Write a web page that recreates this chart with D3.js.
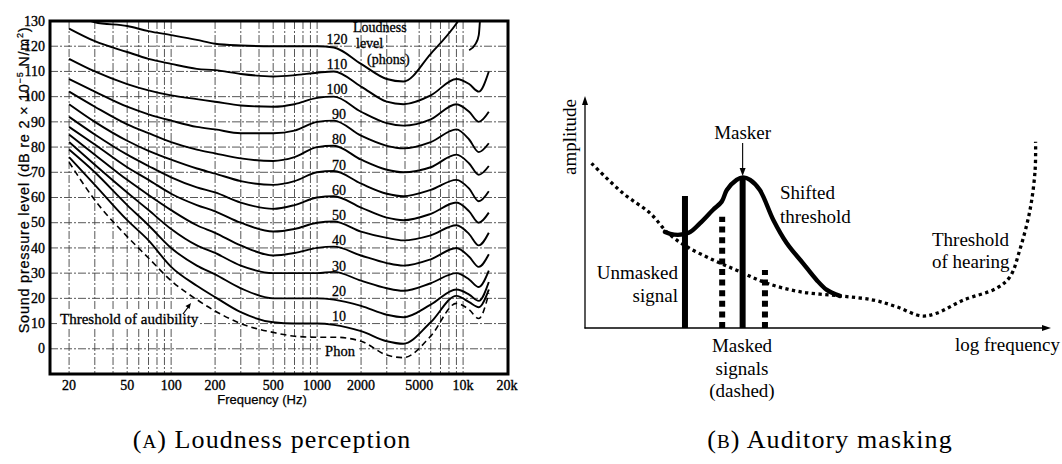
<!DOCTYPE html>
<html>
<head>
<meta charset="utf-8">
<script src="https://cdn.jsdelivr.net/npm/d3@7"></script>
<style>
  html, body { margin: 0; padding: 0; background: #fff; }
  svg { display: block; }
  .serif { font-family: "Liberation Serif", "DejaVu Serif", serif; }
  .sans { font-family: "Liberation Sans", "DejaVu Sans", sans-serif; }
</style>
</head>
<body>
<div id="app"></div>
<script>
// ---------- (A) equal-loudness contours ----------
const freqs = [20, 30, 50, 70, 100, 150, 200, 300, 500, 700, 1000, 1300, 2000, 3000, 3900, 6000, 9000, 11000, 12800, 15000];
const threshold = [74, 59, 44.5, 36, 27, 19.5, 15, 10, 6.5, 5, 4.6, 4.6, 3, -2.5, -3.5, 5, 18, 15.5, 12, 22];
const phon10  = [76, 65, 51, 43, 32.5, 25, 20.5, 14.5, 10.5, 10, 10, 9.5, 7, 3, 2, 10.5, 21, 18.5, 16.5, 23.5];
const phon20  = [79, 70, 57, 49, 40, 33, 29.5, 24, 20, 20, 20, 19.5, 17, 13.5, 12.5, 17.5, 23.5, 21.5, 19, 26.5];
const phon30  = [82, 73, 62, 55, 47.5, 41, 38, 33, 30, 30, 30, 30.5, 27, 24, 23, 26, 30, 27.5, 24.5, 31];
const phon40  = [85, 77, 67, 61, 55, 49, 46, 41, 37, 38, 40, 40.5, 37, 34, 33, 35.5, 40, 36.5, 32.5, 37.5];
const phon50  = [88, 81, 72, 67, 61.5, 57, 54.5, 50, 46.5, 47.5, 50, 50.5, 46.5, 44, 43, 45, 49, 45.5, 41, 46];
const phon60  = [92, 85, 77, 72.5, 68, 64, 62, 58, 55.5, 57, 60, 60.5, 56, 52, 51, 53.5, 58, 54.5, 50, 54];
const phon70  = [97, 90, 82.5, 78.5, 75, 71.5, 69.5, 66.5, 65, 66.5, 70, 70.5, 65.5, 61.5, 60.5, 63, 67, 63.5, 58.5, 62.5];
const phon80  = [102, 96, 89, 85.5, 82, 79, 77.5, 75.5, 74.5, 76, 80, 80.5, 75, 71, 70, 72, 77, 73.5, 69, 72.5];
const phon90  = [107, 102, 96, 93, 90.5, 88, 87, 85.5, 85.5, 86.5, 90, 90.5, 84.5, 80.5, 79.5, 82, 87, 83, 78, 81.5];
const phon100 = [115, 110, 105, 102.5, 100.5, 99, 98, 96.5, 96, 97, 99.5, 100, 94, 89.5, 88.5, 91, 97, 94, 90, 94];
const phon110 = [127, 122, 117.7, 115, 113, 111, 110.5, 109, 108, 108.5, 109.5, 110, 104, 98, 97, 100.5, 107, 105, 102, 110];
const phon120 = [134, 129.5, 128, 126, 124.4, 122.5, 121, 120.3, 120, 120, 120, 119.5, 113, 107, 106, 117, 129, 137, 145, 150];
const tail120Freqs = [11000, 12200, 12800, 13100];
const tail120 = [118.4, 121, 124.4, 132];
const phonLevels = [10, 20, 30, 40, 50, 60, 70, 80, 90, 100, 110, 120];
const phonCurves = [phon10, phon20, phon30, phon40, phon50, phon60, phon70, phon80, phon90, phon100, phon110, phon120];
const freqTicks = [20, 50, 100, 200, 500, 1000, 2000, 5000, 10000, 20000];
const freqTickLabels = ["20", "50", "100", "200", "500", "1000", "2000", "5000", "10k", "20k"];
const splTicks = [0, 10, 20, 30, 40, 50, 60, 70, 80, 90, 100, 110, 120, 130];

// ---------- (B) auditory masking sketch (arbitrary units) ----------
const hearingX = [1.4, 8.2, 14.0, 17.9, 21.9, 27.6, 33.3, 39.1, 46.2, 54.8, 62.0, 67.0, 72.4, 75.6, 81.4, 88.5, 91.4, 93.5, 95.7, 96.8, 96.9];
const hearingY = [71.3, 58.3, 49.7, 41.0, 35.2, 29.4, 24.4, 19.4, 15.7, 13.9, 12.1, 9.2, 5.2, 6.4, 12.1, 17.2, 22.2, 33.8, 51.1, 68.4, 80.6];
const shiftedX = [17.2, 19.2, 22.3, 24.7, 27.5, 29.4, 30.5, 32.6, 34.0, 35.5, 37.6, 40.5, 43.4, 46.9, 49.8, 52.0, 54.8];
const shiftedY = [41.6, 40.4, 41.2, 45.3, 51.1, 54.7, 59.7, 64.1, 65.2, 64.1, 59.7, 46.8, 36.7, 28.0, 20.8, 16.5, 13.9];
const signalX = [21.5, 29.5, 33.9, 38.7];
const signalAmp = [57.1, 48.2, 64.9, 25.1];
const signalDashed = [false, true, false, true];

function plotLoudness(svg) {
    const x = d3.scaleLog().domain([14.8, 20300]).range([50, 508]);
    const y = d3.scaleLinear().domain([-10, 130]).range([374, 21]);
    const g = svg.append("g").attr("id", "loudness");

    g.append("clipPath").attr("id", "plotClip")
        .append("rect").attr("x", 50).attr("y", 21).attr("width", 458).attr("height", 353);

    // grid
    const grid = g.append("g")
        .attr("stroke", "#444").attr("stroke-width", 0.9)
        .attr("stroke-dasharray", "8,2,2,2");
    grid.selectAll(".vgrid")
        .data(x.ticks().filter(d => d >= 20 && d < 20000))
        .enter().append("line")
        .attr("x1", d => x(d)).attr("x2", d => x(d))
        .attr("y1", 21).attr("y2", 374);
    grid.selectAll(".hgrid")
        .data(d3.range(0, 130, 10))
        .enter().append("line")
        .attr("y1", d => y(d)).attr("y2", d => y(d))
        .attr("x1", 50).attr("x2", 508);

    // white knock-outs under annotations
    const knock = g.append("g").attr("fill", "#fff");
    knock.append("rect").attr("x", 57).attr("y", 310).attr("width", 142).attr("height", 17);
    knock.append("rect").attr("x", 321).attr("y", 340).attr("width", 38).attr("height", 18);
    knock.selectAll(".lblbg")
        .data(phonLevels)
        .enter().append("rect")
        .attr("x", d => d >= 100 ? 327 : 331)
        .attr("y", d => y(d) - 14)
        .attr("width", d => d >= 100 ? 22 : 15)
        .attr("height", 11);

    const line = d3.line()
        .x(d => x(d[0]))
        .y(d => y(d[1]))
        .curve(d3.curveMonotoneX);

    const curves = g.append("g").attr("clip-path", "url(#plotClip)")
        .attr("fill", "none").attr("stroke", "#000");
    curves.selectAll(".contour")
        .data(phonCurves)
        .enter().append("path")
        .attr("stroke-width", 1.9)
        .attr("d", vals => line(freqs.map((f, i) => [f, vals[i]])));
    curves.append("path")
        .attr("stroke-width", 1.9)
        .attr("d", line(tail120Freqs.map((f, i) => [f, tail120[i]])));
    curves.append("path")
        .attr("stroke-width", 1.6)
        .attr("stroke-dasharray", "6,4")
        .attr("d", line(freqs.map((f, i) => [f, threshold[i]])));

    // frame
    g.append("rect")
        .attr("x", 50).attr("y", 21).attr("width", 458).attr("height", 353)
        .attr("fill", "none").attr("stroke", "#000").attr("stroke-width", 3);

    // tick labels
    g.selectAll(".ylab")
        .data(splTicks)
        .enter().append("text")
        .attr("class", "serif")
        .attr("x", 45).attr("y", d => y(d) + 4.7)
        .attr("text-anchor", "end")
        .attr("font-size", 14)
        .attr("stroke", "#000").attr("stroke-width", 0.35)
        .text(d => d);
    g.selectAll(".xlab")
        .data(freqTicks)
        .enter().append("text")
        .attr("class", "serif")
        .attr("x", d => x(d)).attr("y", 390)
        .attr("text-anchor", "middle")
        .attr("font-size", 14)
        .attr("stroke", "#000").attr("stroke-width", 0.35)
        .text((d, i) => freqTickLabels[i]);

    // axis titles
    g.append("text")
        .attr("class", "sans")
        .attr("x", 262).attr("y", 404)
        .attr("text-anchor", "middle")
        .attr("font-size", 13)
        .attr("stroke", "#000").attr("stroke-width", 0.25)
        .text("Frequency (Hz)");
    const yt = g.append("text")
        .attr("class", "sans")
        .attr("transform", "translate(29,180) rotate(-90)")
        .attr("text-anchor", "middle")
        .attr("font-size", 14.5)
        .attr("letter-spacing", 0.75)
        .attr("stroke", "#000").attr("stroke-width", 0.25);
    yt.append("tspan").text("Sound pressure level (dB re 2 \u00d7 10");
    yt.append("tspan").attr("dy", -6).attr("font-size", 9).text("\u22125");
    yt.append("tspan").attr("dy", 6).text(" N/m");
    yt.append("tspan").attr("dy", -6).attr("font-size", 9).text("2");
    yt.append("tspan").attr("dy", 6).text(")");

    // curve labels
    const ann = g.append("g").attr("class", "serif").attr("font-size", 14)
        .attr("stroke", "#000").attr("stroke-width", 0.3);
    ann.selectAll(".phonlab")
        .data(phonLevels)
        .enter().append("text")
        .attr("x", d => d >= 100 ? 337 : 339)
        .attr("y", d => y(d) - 2.6)
        .attr("text-anchor", "middle")
        .text(d => d);
    ann.append("text").attr("x", 353).attr("y", 32).text("Loudness");
    ann.append("text").attr("x", 356).attr("y", 48).text("level");
    ann.append("text").attr("x", 367).attr("y", 64).text("(phons)");
    ann.append("text").attr("x", 60).attr("y", 324).attr("font-size", 15).text("Threshold of audibility");
    ann.append("text").attr("x", 340).attr("y", 355.5).attr("text-anchor", "middle").attr("font-size", 14.5).text("Phon");

    // small pointer to the threshold curve
    g.append("path")
        .attr("d", "M183,314 L189,306")
        .attr("stroke", "#000").attr("stroke-width", 1.2);
    g.append("path")
        .attr("d", "M191,303 L185.5,306 L189.5,309 Z")
        .attr("fill", "#000");
}

function plotMasking(svg) {
    const x = d3.scaleLinear().domain([0, 100]).range([585, 1050]);
    const y = d3.scaleLinear().domain([0, 100]).range([328, 97]);
    const g = svg.append("g").attr("id", "masking");

    // axes with arrow heads
    g.append("line").attr("x1", x(0)).attr("x2", x(0)).attr("y1", y(0) + 0.5).attr("y2", y(100) + 6)
        .attr("stroke", "#000").attr("stroke-width", 1.3);
    g.append("line").attr("x1", x(0) - 0.5).attr("x2", x(100) - 6).attr("y1", y(0)).attr("y2", y(0))
        .attr("stroke", "#000").attr("stroke-width", 1.3);
    g.append("path")
        .attr("d", `M${x(0)},${y(100) - 1} L${x(0) - 3},${y(100) + 8} L${x(0) + 3},${y(100) + 8} Z`)
        .attr("fill", "#000");
    g.append("path")
        .attr("d", `M${x(100) + 1},${y(0)} L${x(100) - 8},${y(0) - 3} L${x(100) - 8},${y(0) + 3} Z`)
        .attr("fill", "#000");

    const line = d3.line()
        .x(d => x(d[0]))
        .y(d => y(d[1]))
        .curve(d3.curveCatmullRom.alpha(0.5));

    // threshold of hearing (dotted)
    g.append("path")
        .attr("d", line(hearingX.map((v, i) => [v, hearingY[i]])))
        .attr("fill", "none").attr("stroke", "#000")
        .attr("stroke-width", 3.3).attr("stroke-dasharray", "3.3,3.4");

    // signals
    g.selectAll(".signal")
        .data(signalX)
        .enter().append("line")
        .attr("x1", d => x(d)).attr("x2", d => x(d))
        .attr("y1", y(0)).attr("y2", (d, i) => y(signalAmp[i]))
        .attr("stroke", "#000").attr("stroke-width", 6)
        .attr("stroke-dasharray", (d, i) => signalDashed[i] ? "6,4.6" : null);

    // shifted threshold
    g.append("path")
        .attr("d", line(shiftedX.map((v, i) => [v, shiftedY[i]])))
        .attr("fill", "none").attr("stroke", "#000")
        .attr("stroke-width", 4.4).attr("stroke-linejoin", "round").attr("stroke-linecap", "round");

    // masker pointer
    const mx = x(signalX[2]);
    g.append("line").attr("x1", mx).attr("x2", mx).attr("y1", 143).attr("y2", 170)
        .attr("stroke", "#000").attr("stroke-width", 1.1);
    g.append("path").attr("d", `M${mx},176 L${mx - 3},168 L${mx + 3},168 Z`).attr("fill", "#000");

    const t = g.append("g").attr("class", "serif").attr("font-size", 19).attr("fill", "#000");
    t.append("text").attr("x", mx).attr("y", 139).attr("text-anchor", "middle").text("Masker");
    t.append("text").attr("x", 780).attr("y", 199).text("Shifted");
    t.append("text").attr("x", 780).attr("y", 223).text("threshold");
    t.append("text").attr("x", 678).attr("y", 279).attr("text-anchor", "end").text("Unmasked");
    t.append("text").attr("x", 678).attr("y", 302).attr("text-anchor", "end").text("signal");
    t.append("text").attr("x", 742).attr("y", 352).attr("text-anchor", "middle").text("Masked");
    t.append("text").attr("x", 742).attr("y", 375).attr("text-anchor", "middle").text("signals");
    t.append("text").attr("x", 742).attr("y", 397).attr("text-anchor", "middle").text("(dashed)");
    t.append("text").attr("x", 932).attr("y", 246).text("Threshold");
    t.append("text").attr("x", 932).attr("y", 268).text("of hearing");
    t.append("text").attr("x", 1060).attr("y", 351).attr("text-anchor", "end").text("log frequency");
    t.append("text").attr("transform", "translate(576,137) rotate(-90)")
        .attr("text-anchor", "middle").text("amplitude");
}

function plotCaptions(svg) {
    const caps = [
        { letter: "A", text: " Loudness perception", cx: 272 },
        { letter: "B", text: " Auditory masking", cx: 830 }
    ];
    caps.forEach(c => {
        const tx = svg.append("text")
            .attr("class", "serif")
            .attr("x", c.cx).attr("y", 448)
            .attr("text-anchor", "middle")
            .attr("font-size", 26)
            .attr("letter-spacing", 1.1);
        tx.append("tspan").text("(");
        tx.append("tspan").attr("font-size", 19).text(c.letter);
        tx.append("tspan").text(")" + c.text);
    });
}

const svg = d3.select("#app").append("svg")
    .attr("width", 1062)
    .attr("height", 464)
    .attr("viewBox", "0 0 1062 464");
svg.append("rect").attr("width", 1062).attr("height", 464).attr("fill", "#fff");
plotLoudness(svg);
plotMasking(svg);
plotCaptions(svg);
</script>
</body>
</html>
